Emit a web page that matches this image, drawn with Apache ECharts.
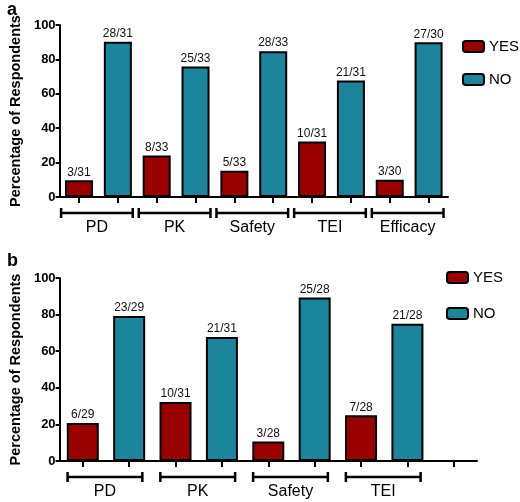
<!DOCTYPE html>
<html><head><meta charset="utf-8">
<script src="https://cdn.jsdelivr.net/npm/echarts@6/dist/echarts.min.js"></script>
<style>html,body{margin:0;padding:0;background:#fff}#c{width:520px;height:502px}</style>
</head><body><div id="c"></div>
<script>
// Panel a
const groupsA = ['PD', 'PK', 'Safety', 'TEI', 'Efficacy'];
const yesA = [9.7, 24.2, 15.2, 32.3, 10.0];
const noA = [90.3, 75.8, 84.8, 67.7, 90.0];
const yesLabA = ['3/31', '8/33', '5/33', '10/31', '3/30'];
const noLabA = ['28/31', '25/33', '28/33', '21/31', '27/30'];
// Panel b
const groupsB = ['PD', 'PK', 'Safety', 'TEI'];
const yesB = [20.7, 32.3, 10.7, 25.0];
const noB = [79.3, 67.7, 89.3, 75.0];
const yesLabB = ['6/29', '10/31', '3/28', '7/28'];
const noLabB = ['23/29', '21/31', '25/28', '21/28'];
const yTicks = [0, 20, 40, 60, 80, 100];

const RED = '#9a0000', TEAL = '#1a859b';
const FONT = 'Liberation Sans, Arial, sans-serif';

function slots(n, total) { const a = []; for (let i = 0; i < total; i++) a.push(String(i)); return a; }
function interleave(vals, labs, offset, total) {
  const d = [];
  for (let i = 0; i < total; i++) d.push('-');
  vals.forEach((v, i) => { d[2 * i + offset] = { value: v, label: { formatter: labs[i] } }; });
  return d;
}

function barSeries(name, color, data, xi, width) {
  return {
    type: 'bar', name, xAxisIndex: xi, yAxisIndex: xi, data, barWidth: width, barGap: '-100%',
    itemStyle: { color, borderColor: '#000', borderWidth: 2 },
    label: { show: true, position: 'top', distance: 2, fontFamily: FONT, fontSize: 12, color: '#111' },
    emphasis: { disabled: true }, animation: false
  };
}

function bracketSeries(groups, xi, insetL, insetR) {
  return {
    type: 'custom', xAxisIndex: xi, yAxisIndex: xi, clip: false, silent: true, animation: false,
    data: groups.map((g, i) => [2 * i, 0, g]),
    renderItem(params, api) {
      const i0 = api.value(0);
      const p0 = api.coord([i0, 0]);
      const p1 = api.coord([i0 + 1, 0]);
      const band = api.size([1, 0])[0];
      const x0 = p0[0] - band / 2 + insetL, x1 = p1[0] + band / 2 - insetR;
      const y = p0[1] + 16;
      const ls = { stroke: '#000', lineWidth: 2.5 };
      return {
        type: 'group', children: [
          { type: 'line', shape: { x1: x0, y1: y, x2: x1, y2: y }, style: ls },
          { type: 'line', shape: { x1: x0, y1: y - 5, x2: x0, y2: y + 5 }, style: ls },
          { type: 'line', shape: { x1: x1, y1: y - 5, x2: x1, y2: y + 5 }, style: ls },
          { type: 'text', x: (x0 + x1) / 2, y: y + 7, style: { text: api.value(2), font: '16px ' + FONT, fill: '#000', align: 'center', verticalAlign: 'top' } }
        ]
      };
    }
  };
}

function yAxis(gi) {
  return {
    type: 'value', gridIndex: gi, min: 0, max: 100, interval: 20,
    name: 'Percentage of Respondents', nameLocation: 'middle', nameGap: 33,
    nameTextStyle: { fontFamily: FONT, fontSize: 14.5, fontWeight: 'bold', color: '#000' },
    axisLine: { show: true, lineStyle: { color: '#000', width: 2 } },
    axisTick: { show: true, length: 4, lineStyle: { color: '#000', width: 2 } },
    axisLabel: { fontFamily: FONT, fontSize: 13, fontWeight: 'bold', color: '#000', margin: 4 },
    splitLine: { show: false }
  };
}
function xAxis(gi, n) {
  return {
    type: 'category', gridIndex: gi, data: slots(0, n),
    axisLine: { lineStyle: { color: '#000', width: 2 } },
    axisTick: { show: true, alignWithLabel: true, interval: 0, length: 6, lineStyle: { color: '#000', width: 2 } },
    axisLabel: { show: false }
  };
}
function legend(left, top, gap) {
  return {
    data: ['YES', 'NO'], orient: 'vertical', left, top, padding: 0, itemWidth: 21, itemHeight: 11, itemGap: gap,
    itemStyle: { borderColor: '#000', borderWidth: 2 },
    textStyle: { fontFamily: FONT, fontSize: 15, color: '#000' }, selectedMode: false
  };
}

const chart = echarts.init(document.getElementById('c'), null, { renderer: 'canvas' });
chart.setOption({
  animation: false,
  title: [
    { text: 'a', left: 2, top: -4, textStyle: { fontFamily: FONT, fontSize: 18, fontWeight: 'bold', color: '#000' } },
    { text: 'b', left: 2, top: 247, textStyle: { fontFamily: FONT, fontSize: 18, fontWeight: 'bold', color: '#000' } }
  ],
  legend: [legend(462, 39, 18), legend(446, 270, 21)],
  grid: [
    { left: 52, top: 25, width: 396, height: 172 },
    { left: 50, top: 278, width: 427, height: 183 }
  ],
  xAxis: [xAxis(0, 10), xAxis(1, 9)],
  yAxis: [yAxis(0), yAxis(1)],
  series: [
    barSeries('YES', RED, interleave(yesA, yesLabA, 0, 10), 0, 28),
    barSeries('NO', TEAL, interleave(noA, noLabA, 1, 10), 0, 28),
    bracketSeries(groupsA, 0, 1.5, 4.5),
    barSeries('YES', RED, interleave(yesB, yesLabB, 0, 9), 1, 32),
    barSeries('NO', TEAL, interleave(noB, noLabB, 1, 9), 1, 32),
    bracketSeries(groupsB, 1, 8, 10)
  ]
});
</script></body></html>
